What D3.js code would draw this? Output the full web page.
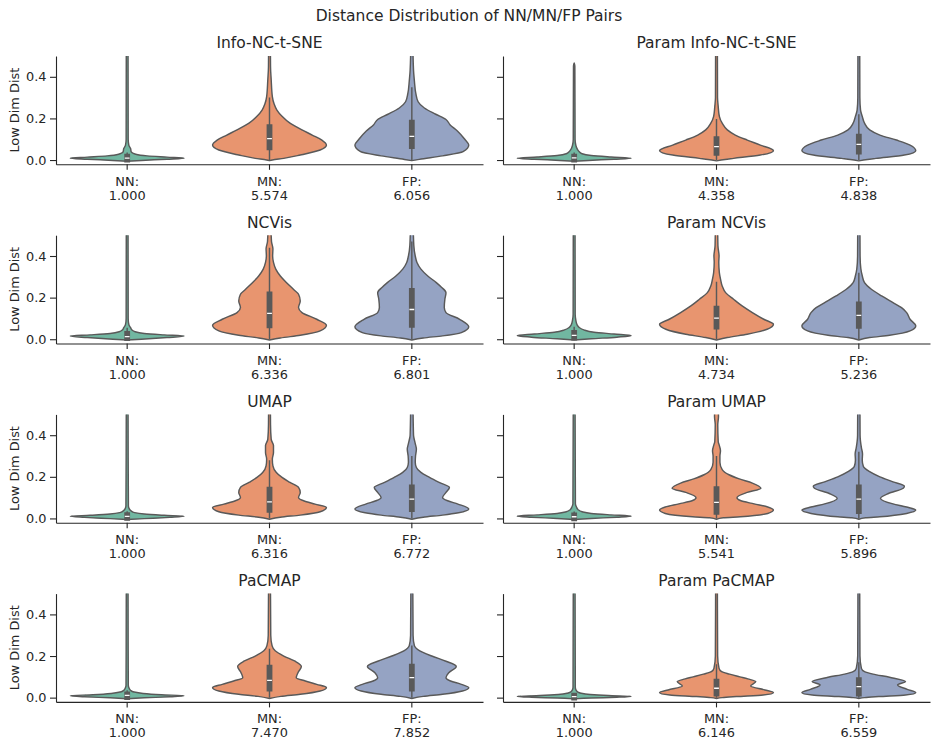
<!DOCTYPE html>
<html>
<head>
<meta charset="utf-8">
<script src="https://cdn.jsdelivr.net/npm/d3@7"></script>
<style>
  body { margin: 0; background: #fff; }
  svg { display: block; font-family: "DejaVu Sans", sans-serif; }
</style>
</head>
<body>
<svg id="chart" width="931" height="739"></svg>
<script>
// violin chart: low dim distance of NN / MN / FP pairs, 4x2 grid of methods

const panelTitles = [
  "Info-NC-t-SNE", "Param Info-NC-t-SNE",
  "NCVis", "Param NCVis",
  "UMAP", "Param UMAP",
  "PaCMAP", "Param PaCMAP",
];
const categories = ["NN", "MN", "FP"];
const ratioLabels = [
  ["1.000", "5.574", "6.056"], ["1.000", "4.358", "4.838"],
  ["1.000", "6.336", "6.801"], ["1.000", "4.734", "5.236"],
  ["1.000", "6.316", "6.772"], ["1.000", "5.541", "5.896"],
  ["1.000", "7.470", "7.852"], ["1.000", "6.146", "6.559"],
];
const yTicks = [0.0, 0.2, 0.4];

// box stats per panel, per category: [q1, median, q3, whiskerLo, whiskerHi]
const boxStats = [
  [[0.002, 0.009, 0.016, 0, 0.036], [0.061, 0.103, 0.158, 0, 0.30], [0.067, 0.114, 0.180, 0, 0.35]],
  [[0.002, 0.010, 0.016, 0, 0.036], [0.035, 0.064, 0.100, 0, 0.197], [0.040, 0.075, 0.112, 0, 0.22]],
  [[0.006, 0.013, 0.026, 0, 0.055], [0.067, 0.124, 0.216, 0, 0.44], [0.069, 0.143, 0.232, 0, 0.47]],
  [[0.008, 0.019, 0.030, 0, 0.060], [0.061, 0.101, 0.147, 0, 0.276], [0.064, 0.115, 0.168, 0, 0.32]],
  [[0.003, 0.010, 0.016, 0, 0.035], [0.041, 0.080, 0.138, 0, 0.28], [0.045, 0.093, 0.149, 0, 0.30]],
  [[0.001, 0.008, 0.014, 0, 0.033], [0.032, 0.077, 0.141, 0, 0.30], [0.035, 0.093, 0.149, 0, 0.32]],
  [[0.003, 0.011, 0.016, 0, 0.035], [0.043, 0.083, 0.144, 0, 0.235], [0.043, 0.096, 0.149, 0, 0.25]],
  [[0.000, 0.005, 0.009, 0, 0.020], [0.019, 0.045, 0.077, 0, 0.16], [0.019, 0.053, 0.084, 0, 0.17]],
];

// density outlines: [value, relative half width]
const shapeInfoNcTsne = [
  [[-0.006, 0], [-0.002, 0.25], [0.004, 0.7], [0.009, 1], [0.014, 0.7], [0.02, 0.35], [0.028, 0.15],
   [0.04, 0.07], [0.055, 0.06], [0.07, 0.03], [0.1, 0.018], [0.6, 0.015]],
  [[-0.003, 0], [0.0, 0.05], [0.008, 0.25], [0.024, 0.54], [0.048, 0.89], [0.072, 1.0], [0.096, 0.92],
   [0.12, 0.75], [0.145, 0.57], [0.177, 0.36], [0.21, 0.22], [0.24, 0.13], [0.27, 0.08], [0.305, 0.05],
   [0.385, 0.03], [0.45, 0.018], [0.6, 0.015]],
  [[-0.003, 0], [0.003, 0.13], [0.02, 0.54], [0.04, 0.9], [0.072, 1.0], [0.1, 0.93], [0.14, 0.8],
   [0.17, 0.67], [0.195, 0.6], [0.22, 0.42], [0.25, 0.22], [0.28, 0.11], [0.32, 0.07], [0.38, 0.045],
   [0.43, 0.03], [0.6, 0.015]],
];
const shapeParamInfoNcTsne = [
  [[-0.006, 0], [-0.002, 0.25], [0.004, 0.7], [0.009, 1], [0.015, 0.65], [0.022, 0.3], [0.03, 0.14],
   [0.04, 0.09], [0.05, 0.06], [0.07, 0.03], [0.1, 0.016], [0.45, 0.012], [0.466, 0]],
  [[-0.004, 0], [0.003, 0.15], [0.008, 0.3], [0.024, 0.77], [0.045, 1.0], [0.072, 0.77], [0.096, 0.54],
   [0.12, 0.33], [0.145, 0.19], [0.177, 0.1], [0.21, 0.05], [0.257, 0.03], [0.3, 0.018], [0.6, 0.015]],
  [[-0.004, 0], [0.003, 0.15], [0.008, 0.3], [0.024, 0.8], [0.045, 1.0], [0.072, 0.9], [0.096, 0.66],
   [0.12, 0.37], [0.145, 0.19], [0.177, 0.1], [0.21, 0.06], [0.24, 0.03], [0.3, 0.018], [0.6, 0.015]],
];
const shapeNcvis = [
  [[-0.004, 0], [0.0, 0.25], [0.008, 0.7], [0.015, 1], [0.021, 0.65], [0.028, 0.3], [0.036, 0.14],
   [0.046, 0.08], [0.056, 0.06], [0.07, 0.03], [0.1, 0.018], [0.6, 0.015]],
  [[-0.004, 0], [0.006, 0.19], [0.019, 0.54], [0.04, 0.89], [0.067, 1.0], [0.096, 0.83], [0.128, 0.57],
   [0.152, 0.51], [0.184, 0.54], [0.216, 0.51], [0.24, 0.42], [0.272, 0.3], [0.304, 0.19], [0.337, 0.11],
   [0.369, 0.07], [0.4, 0.055], [0.435, 0.06], [0.47, 0.035], [0.6, 0.02]],
  [[-0.004, 0], [0.006, 0.2], [0.016, 0.54], [0.032, 0.87], [0.06, 1.0], [0.096, 0.84], [0.128, 0.6],
   [0.152, 0.57], [0.192, 0.58], [0.224, 0.6], [0.25, 0.52], [0.272, 0.43], [0.304, 0.28], [0.337, 0.16],
   [0.369, 0.09], [0.4, 0.06], [0.45, 0.035], [0.6, 0.02]],
];
const shapeParamNcvis = [
  [[-0.004, 0], [0.002, 0.3], [0.01, 0.75], [0.017, 1], [0.025, 0.7], [0.034, 0.35], [0.045, 0.17],
   [0.056, 0.09], [0.07, 0.05], [0.09, 0.03], [0.12, 0.018], [0.6, 0.015]],
  [[-0.004, 0], [0.008, 0.19], [0.024, 0.54], [0.048, 0.89], [0.072, 1.0], [0.096, 0.83], [0.128, 0.63],
   [0.16, 0.45], [0.192, 0.3], [0.224, 0.16], [0.256, 0.1], [0.29, 0.07], [0.32, 0.05], [0.37, 0.04],
   [0.4, 0.045], [0.45, 0.025], [0.6, 0.018]],
  [[-0.004, 0], [0.008, 0.19], [0.019, 0.54], [0.04, 0.9], [0.064, 1.0], [0.096, 0.9], [0.128, 0.84],
   [0.152, 0.75], [0.176, 0.6], [0.208, 0.4], [0.24, 0.22], [0.272, 0.1], [0.305, 0.06], [0.34, 0.035],
   [0.4, 0.022], [0.6, 0.018]],
];
const shapeUmap = [
  [[-0.005, 0], [-0.001, 0.3], [0.005, 0.75], [0.01, 1], [0.015, 0.65], [0.021, 0.3], [0.028, 0.13],
   [0.036, 0.07], [0.045, 0.04], [0.06, 0.022], [0.6, 0.015]],
  [[-0.004, 0], [0.006, 0.19], [0.016, 0.54], [0.032, 0.89], [0.053, 1.0], [0.069, 0.8], [0.085, 0.6],
   [0.1, 0.51], [0.125, 0.54], [0.149, 0.51], [0.173, 0.36], [0.197, 0.22], [0.221, 0.12], [0.253, 0.06],
   [0.285, 0.05], [0.317, 0.07], [0.35, 0.07], [0.38, 0.03], [0.45, 0.018], [0.6, 0.015]],
  [[-0.004, 0], [0.006, 0.2], [0.016, 0.54], [0.027, 0.82], [0.045, 1.0], [0.069, 0.81], [0.085, 0.63],
   [0.1, 0.54], [0.125, 0.6], [0.149, 0.66], [0.173, 0.48], [0.197, 0.31], [0.221, 0.16], [0.245, 0.08],
   [0.27, 0.06], [0.3, 0.065], [0.333, 0.08], [0.36, 0.06], [0.4, 0.03], [0.6, 0.018]],
];
const shapeParamUmap = [
  [[-0.005, 0], [0.0, 0.3], [0.006, 0.75], [0.011, 1], [0.017, 0.65], [0.024, 0.3], [0.032, 0.14],
   [0.042, 0.07], [0.055, 0.04], [0.07, 0.022], [0.6, 0.015]],
  [[-0.004, 0], [0.003, 0.12], [0.008, 0.42], [0.024, 0.9], [0.04, 1.0], [0.055, 0.9], [0.07, 0.66],
   [0.086, 0.42], [0.1, 0.36], [0.125, 0.54], [0.145, 0.78], [0.17, 0.63], [0.19, 0.4], [0.21, 0.22],
   [0.235, 0.1], [0.27, 0.06], [0.3, 0.06], [0.325, 0.07], [0.35, 0.05], [0.37, 0.03], [0.45, 0.022],
   [0.49, 0.035], [0.6, 0.018]],
  [[-0.004, 0], [0.003, 0.12], [0.008, 0.37], [0.024, 0.84], [0.04, 1.0], [0.055, 0.84], [0.07, 0.6],
   [0.096, 0.38], [0.12, 0.52], [0.145, 0.78], [0.155, 0.8], [0.176, 0.6], [0.2, 0.37], [0.225, 0.19],
   [0.25, 0.08], [0.28, 0.06], [0.31, 0.065], [0.34, 0.045], [0.4, 0.022], [0.6, 0.018]],
];
const shapePacmap = [
  [[-0.005, 0], [-0.001, 0.3], [0.004, 0.75], [0.009, 1], [0.014, 0.6], [0.02, 0.28], [0.027, 0.12],
   [0.035, 0.06], [0.045, 0.035], [0.06, 0.02], [0.6, 0.015]],
  [[-0.004, 0], [0.006, 0.2], [0.016, 0.54], [0.032, 0.89], [0.048, 1.0], [0.064, 0.83], [0.08, 0.63],
   [0.096, 0.47], [0.12, 0.5], [0.15, 0.56], [0.175, 0.45], [0.2, 0.25], [0.225, 0.1], [0.25, 0.045],
   [0.3, 0.022], [0.6, 0.015]],
  [[-0.004, 0], [0.006, 0.2], [0.016, 0.54], [0.032, 0.89], [0.048, 1.0], [0.064, 0.87], [0.08, 0.68],
   [0.096, 0.6], [0.12, 0.65], [0.15, 0.78], [0.175, 0.6], [0.2, 0.35], [0.225, 0.14], [0.25, 0.045],
   [0.3, 0.022], [0.6, 0.015]],
];
const shapeParamPacmap = [
  [[-0.006, 0], [-0.002, 0.3], [0.002, 0.75], [0.006, 1], [0.01, 0.6], [0.015, 0.28], [0.021, 0.12],
   [0.028, 0.06], [0.038, 0.03], [0.05, 0.02], [0.6, 0.015]],
  [[-0.004, 0], [0.0, 0.1], [0.005, 0.35], [0.013, 0.82], [0.024, 1.0], [0.037, 0.85], [0.056, 0.6],
   [0.077, 0.69], [0.09, 0.55], [0.1, 0.41], [0.113, 0.23], [0.125, 0.09], [0.141, 0.045], [0.2, 0.02],
   [0.6, 0.015]],
  [[-0.004, 0], [0.0, 0.1], [0.005, 0.35], [0.013, 0.82], [0.024, 1.0], [0.04, 0.85], [0.061, 0.68],
   [0.077, 0.82], [0.098, 0.54], [0.113, 0.25], [0.125, 0.1], [0.141, 0.045], [0.2, 0.02], [0.6, 0.015]],
];

const shapes = [
  shapeInfoNcTsne, shapeParamInfoNcTsne, shapeNcvis, shapeParamNcvis,
  shapeUmap, shapeParamUmap, shapePacmap, shapeParamPacmap,
];

// Set2, desaturated like seaborn does
const fills = ["#71b7a1", "#e8956f", "#95a3c3"];
const gray = "#595959";
const ink = "#262626";

const svg = d3.select("#chart");
const colX = [[56, 483], [503, 930]];
const axH = 108.3;
const rowTop = (r) => 56 + r * 179.2;

svg.append("text")
  .attr("x", 469).attr("y", 20.5)
  .attr("text-anchor", "middle")
  .attr("font-size", 15.5)
  .attr("fill", ink)
  .text("Distance Distribution of NN/MN/FP Pairs");

panelTitles.forEach((title, p) => {
  const row = Math.floor(p / 2);
  const col = p % 2;
  const [x0, x1] = colX[col];
  const top = rowTop(row);

  const x = d3.scaleBand().domain(categories).range([x0, x1]).padding(0);
  const y = d3.scaleLinear().domain([-0.0205, 0.5]).range([top + axH, top]);
  const half = x.bandwidth() * 0.4;

  const g = svg.append("g");

  // clip violins to the axes box
  const clipId = "clip" + p;
  svg.append("clipPath").attr("id", clipId)
    .append("rect")
    .attr("x", x0).attr("y", top)
    .attr("width", x1 - x0).attr("height", axH);

  const plot = g.append("g").attr("clip-path", `url(#${clipId})`);

  categories.forEach((cat, i) => {
    const cx = x(cat) + x.bandwidth() / 2;
    const area = d3.area()
      .curve(d3.curveMonotoneY)
      .y((d) => y(d[0]))
      .x0((d) => cx - d[1] * half)
      .x1((d) => cx + d[1] * half);

    plot.append("path")
      .datum(shapes[p][i])
      .attr("d", area)
      .attr("fill", fills[i])
      .attr("stroke", gray)
      .attr("stroke-width", 1.45)
      .attr("stroke-linejoin", "round");

    const [q1, med, q3, wlo, whi] = boxStats[p][i];
    plot.append("line")
      .attr("x1", cx).attr("x2", cx)
      .attr("y1", y(wlo)).attr("y2", y(whi))
      .attr("stroke", gray).attr("stroke-width", 1.45);
    plot.append("line")
      .attr("x1", cx).attr("x2", cx)
      .attr("y1", y(q1)).attr("y2", y(q3))
      .attr("stroke", gray).attr("stroke-width", 5.8)
      .attr("stroke-linecap", "square");
    plot.append("line")
      .attr("x1", cx - 2.4).attr("x2", cx + 2.4)
      .attr("y1", y(med)).attr("y2", y(med))
      .attr("stroke", "#fff").attr("stroke-width", 1.3);
  });

  // y axis (labels only on the left column)
  const yAxis = d3.axisLeft(y)
    .tickValues(yTicks)
    .tickSize(6).tickSizeOuter(0).tickPadding(3.5)
    .tickFormat(col === 0 ? d3.format(".1f") : () => "");
  const ya = g.append("g")
    .attr("transform", `translate(${x0},0)`)
    .call(yAxis);
  ya.select(".domain").attr("stroke", ink).attr("stroke-width", 1.1);
  ya.selectAll(".tick line").attr("stroke", ink).attr("stroke-width", 1.1);
  ya.selectAll(".tick text")
    .attr("font-family", "DejaVu Sans").attr("font-size", 12.9).attr("fill", ink);

  // x axis with two-line labels
  const xa = g.append("g")
    .attr("transform", `translate(0,${top + axH})`)
    .call(d3.axisBottom(x).tickSize(5.5).tickSizeOuter(0));
  xa.select(".domain").attr("stroke", ink).attr("stroke-width", 1.1);
  xa.selectAll(".tick line").attr("stroke", ink).attr("stroke-width", 1.1);
  xa.selectAll(".tick text").remove();
  xa.selectAll(".tick").each(function(cat, i) {
    const t = d3.select(this).append("text")
      .attr("text-anchor", "middle")
      .attr("font-family", "DejaVu Sans")
      .attr("font-size", 12.9)
      .attr("fill", ink);
    t.append("tspan").attr("x", 0).attr("y", 21.6).text(cat + ":");
    t.append("tspan").attr("x", 0).attr("y", 35.6).text(ratioLabels[p][i]);
  });

  g.append("text")
    .attr("x", (x0 + x1) / 2).attr("y", top - 7.6)
    .attr("text-anchor", "middle")
    .attr("font-size", 15.5)
    .attr("fill", ink)
    .text(title);

  if (col === 0) {
    g.append("text")
      .attr("transform", `translate(19,${top + axH / 2}) rotate(-90)`)
      .attr("text-anchor", "middle")
      .attr("font-size", 12.9)
      .attr("fill", ink)
      .text("Low Dim Dist");
  }
});
</script>
</body>
</html>
